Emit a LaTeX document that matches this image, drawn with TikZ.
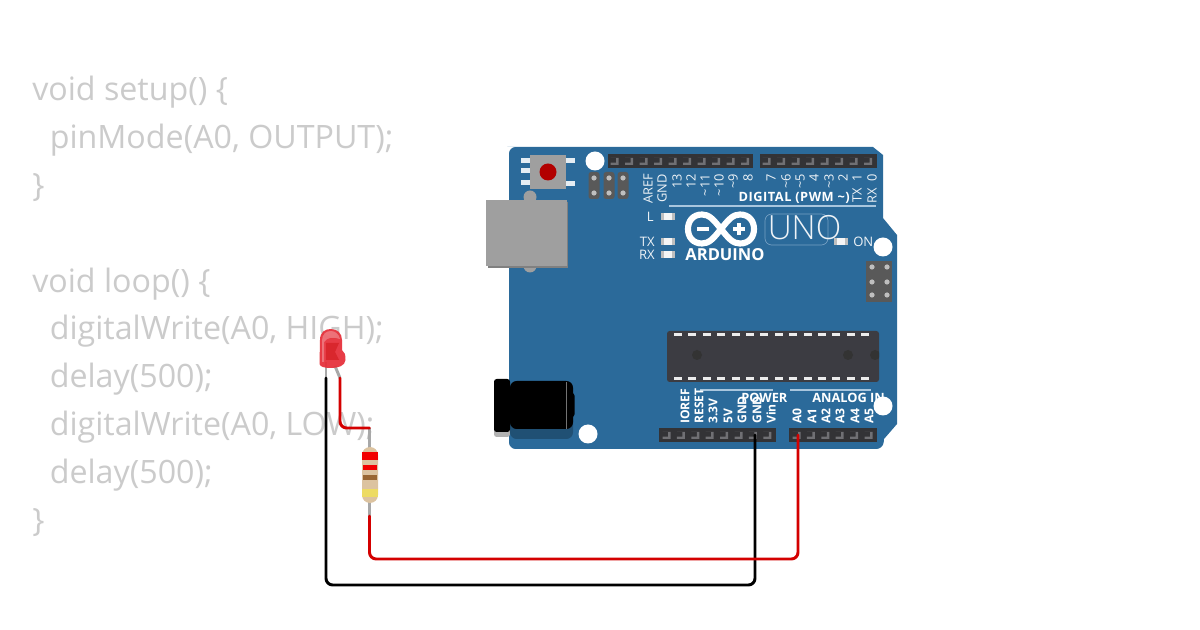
\documentclass[tikz,border=0pt]{standalone}
\usepackage{fontspec}
\setmainfont{Open Sans}
\newfontfamily\unofont{Open Sans Light}
\definecolor{boardblue}{HTML}{2B6A9A}
\definecolor{codegray}{HTML}{CBCBCB}
\definecolor{wirered}{HTML}{D40000}
\definecolor{socket}{HTML}{333336}
\definecolor{socketlight}{HTML}{707074}
\definecolor{chipgray}{HTML}{3C3C42}
\definecolor{silk}{HTML}{A9C6DE}
\definecolor{leadgray}{HTML}{A8A8A8}
\definecolor{ledred}{HTML}{E62E38}
\definecolor{tan}{HTML}{DCC3A0}
\tikzset{
  codeline/.style={anchor=base west,inner sep=0pt,text=codegray,font=\fontsize{24.15}{24.15}\selectfont},
  pinlabel/.style={rotate=90,inner sep=0pt,text=white!92!boardblue,font=\fontsize{9.6}{9.6}\selectfont},
  pinbold/.style={pinlabel,text=white,font=\fontsize{9.1}{9.1}\selectfont\bfseries},
  boardtitle/.style={inner sep=0pt,text=white,font=\fontsize{9.6}{9.6}\selectfont\bfseries},
  boardtext/.style={inner sep=0pt,text=white!92!boardblue,font=\fontsize{9.8}{9.8}\selectfont},
  wire/.style={line width=2.2pt,rounded corners=5pt,line cap=round},
  lead/.style={line width=2.2pt,draw=leadgray}
}
\newcommand{\socketmark}[2]{%
  \fill[socketlight] (#1-4.5,#2-3.5) -- (#1+3.5,#2-3.5) -- (#1+3.5,#2+3.5) -- (#1-4.5,#2+3.5) -- (#1-4.5,#2+1.2) -- (#1+1,#2+1.2) -- (#1+1,#2-3.5) -- cycle;}
\begin{document}
\begin{tikzpicture}[x=0.75pt,y=-0.75pt]
\useasboundingbox (0,0) rectangle (1200,630);
\fill[white] (0,0) rectangle (1200,630);
% code
\node[codeline] (c1) at (32,101) {void setup() \{};
\node[codeline] (c2) at (49.5,149) {pinMode(A0, OUTPUT);};
\node[codeline] (c3) at (32,197) {\}};
\node[codeline] (c4) at (32,293) {void loop() \{};
\node[codeline] (c5) at (49.5,340) {digitalWrite(A0, HIGH);};
\node[codeline] (c6) at (49.5,388) {delay(500);};
\node[codeline] (c7) at (49.5,436) {digitalWrite(A0, LOW);};
\node[codeline] (c8) at (49.5,484) {delay(500);};
\node[codeline] (c9) at (32,532) {\}};
% board
\fill[boardblue] (514,147) -- (873,147) -- (883,155) -- (883,218) -- (897,235) -- (897,424) -- (884,439) [rounded corners=5pt] -- (883,449) -- (509,449) -- (509,147) -- cycle;
% reset button
\foreach \y in {160.5,170.5,182.5} \fill[white!88!boardblue] (521,\y-2.5) rectangle (531,\y+2.5);
\foreach \y in {160.5,183.5} \fill[white!88!boardblue] (565,\y-2.5) rectangle (575,\y+2.5);
\fill[gray!75] (530,155) rectangle (566,189);
\fill[red!70!black] (548,172) circle (8.5);
% ICSP 1
\foreach \x in {594,609,623} {
  \fill[black!65,rounded corners=2pt] (\x-5.5,172) rectangle (\x+5.5,199);
  \foreach \y in {178,193} \fill[black!25] (\x,\y) circle (2.6);
}
% ICSP 2
\fill[black!65] (866,261) rectangle (892,302);
\foreach \x in {872,887} \foreach \y in {267,282,295} \fill[black!25] (\x,\y) circle (2.6);
% USB
\fill[gray!75] (530,197) circle (6.5);
\fill[gray!75] (530,266) circle (6.5);
\fill[gray] (488,202) rectangle (568,268);
\fill[gray!75] (486,200) rectangle (567,266);
% jack
\fill[black!30,rounded corners=2pt] (494,392) rectangle (510,437);
\fill[boardblue!75!black,rounded corners=5pt] (510,392) rectangle (573,439);
\fill[black,rounded corners=5pt] (510,381) rectangle (573,429);
\fill[black,rounded corners=2pt] (494,379) rectangle (510,432);
\fill[black,rounded corners=2pt] (570,393) rectangle (574.5,417);
\draw[black!55,line width=.3pt] (566.5,382) -- (566.5,429);
% headers
\fill[socket] (608,154) rectangle (753,168);
\fill[socket] (760,154) rectangle (877,168);
\fill[socket] (659,428) rectangle (776,442);
\fill[socket] (789,428) rectangle (877,442);
\foreach \i in {0,...,9} {\pgfmathsetmacro{\px}{615+14.5*\i}\socketmark{\px}{161.5}}
\foreach \i in {0,...,7} {\pgfmathsetmacro{\px}{767+14.5*\i}\socketmark{\px}{161.5}}
\foreach \i in {0,...,7} {\pgfmathsetmacro{\px}{667+14.4*\i}\socketmark{\px}{435.5}}
\foreach \i in {0,...,5} {\pgfmathsetmacro{\px}{797+14.4*\i}\socketmark{\px}{435.5}}
% chip
\fill[chipgray,rounded corners=2pt] (667,331) rectangle (879,382);
\foreach \i in {0,...,13} {
  \pgfmathsetmacro{\px}{678+14.4*\i}
  \fill[white!85!gray] (\px-4,333) rectangle (\px+4,336);
  \fill[white!85!gray] (\px-4,377) rectangle (\px+4,380);
}
\fill[black!80] (697,355) circle (5);
\fill[black!80] (848,355) circle (5);
\begin{scope}
\clip (667,331) rectangle (879,382);
\fill[black!80] (875,355) circle (5);
\end{scope}
% silk lines
\draw[silk,line width=.8pt] (669,206) -- (876,206);
\draw[silk,line width=.8pt] (700,390) -- (773,390);
\draw[silk,line width=.8pt] (790,390) -- (871,390);
% top pin labels
\node[pinlabel,anchor=east] (lAREF) at (648,174) {AREF};
\node[pinlabel,anchor=east] (lGND) at (662,174) {GND};
\node[pinlabel,anchor=east] (l13) at (677,174) {13};
\node[pinlabel,anchor=east] (l12) at (691,174) {12};
\node[pinlabel,anchor=east] (l11) at (705,174) {\textasciitilde 11};
\node[pinlabel,anchor=east] (l10) at (719,174) {\textasciitilde 10};
\node[pinlabel,anchor=east] (l9) at (733,174) {\textasciitilde 9};
\node[pinlabel,anchor=east] (l8) at (748,174) {8};
\node[pinlabel,anchor=east] (l7) at (771,174) {7};
\node[pinlabel,anchor=east] (l6) at (786,174) {\textasciitilde 6};
\node[pinlabel,anchor=east] (l5) at (800,174) {\textasciitilde 5};
\node[pinlabel,anchor=east] (l4) at (814,174) {4};
\node[pinlabel,anchor=east] (l3) at (829,174) {\textasciitilde 3};
\node[pinlabel,anchor=east] (l2) at (843,174) {2};
\node[pinlabel,anchor=east] (l1) at (857,174) {1};
\node[pinlabel,anchor=east] (l0) at (872,174) {0};
\node[pinlabel,anchor=east] (lTX) at (857,188) {TX};
\node[pinlabel,anchor=east] (lRX) at (872,188) {RX};
\node[boardtitle,anchor=east] (ldigital) at (850,197.5) {\addfontfeature{LetterSpace=4}DIGITAL (PWM \textasciitilde)};
% leds
\node[boardtext,anchor=east] (lL) at (654,216.5) {L};
\node[boardtext,anchor=east] (lTXl) at (655,242) {TX};
\node[boardtext,anchor=east] (lRXl) at (655,255) {RX};
\node[boardtext,anchor=west] (lON) at (853,242) {ON};
\foreach \x/\y in {668/217,668/242,668/255,841/242} {
  \fill[black!25] (\x-7,\y-3.5) rectangle (\x+7,\y+3.5);
  \fill[white!92!gray] (\x-4,\y-3.5) rectangle (\x+4,\y+3.5);
}
% logo
\draw[white,line width=4.6pt] (721,229) .. controls (729,219) and (733,214.5) .. (740,214.5) .. controls (749,214.5) and (754,221) .. (754,229) .. controls (754,237) and (749,243.5) .. (740,243.5) .. controls (733,243.5) and (729,239) .. (721,229) .. controls (713,219) and (709,214.5) .. (702,214.5) .. controls (693,214.5) and (688,221) .. (688,229) .. controls (688,237) and (693,243.5) .. (702,243.5) .. controls (709,243.5) and (713,239) .. (721,229) -- cycle;
\fill[white] (697,227.5) rectangle (709,231);
\fill[white] (733,227.5) rectangle (745,231);
\fill[white] (737.2,223) rectangle (740.8,235);
\node[inner sep=0pt,text=white,font=\fontsize{12.4}{12.4}\selectfont\bfseries] (larduino) at (725,255) {ARDUINO};
\draw[silk!60!boardblue,line width=.5pt,rounded corners=5pt] (765,214) rectangle (828,245);
\node[inner sep=0pt,text=white!92!boardblue,font=\unofont\fontsize{25}{25}\selectfont] (luno) at (804.5,228) {UNO};
% bottom labels
\node[pinbold,anchor=west] (bIOREF) at (685,424) {IOREF};
\node[pinbold,anchor=west] (bRESET) at (699,424) {RESET};
\node[pinbold,anchor=west] (b33) at (713,424) {3.3V};
\node[pinbold,anchor=west] (b5V) at (728,424) {5V};
\node[pinbold,anchor=west] (bGNDa) at (742,424) {GND};
\node[pinbold,anchor=west] (bGNDb) at (757,424) {GND};
\node[pinbold,anchor=west] (bVin) at (771,424) {Vin};
\node[pinbold,anchor=west] (bA0) at (797,424) {A0};
\node[pinbold,anchor=west] (bA1) at (812,424) {A1};
\node[pinbold,anchor=west] (bA2) at (826,424) {A2};
\node[pinbold,anchor=west] (bA3) at (840,424) {A3};
\node[pinbold,anchor=west] (bA4) at (855,424) {A4};
\node[pinbold,anchor=west] (bA5) at (869,424) {A5};
\node[boardtitle,anchor=west] (lpower) at (741,398) {POWER};
\node[boardtitle,anchor=west] (lanalog) at (812,398) {ANALOG IN};
% holes
\foreach \x/\y in {595/161,883/247,883/406,588/434} \fill[white] (\x,\y) circle (9.5);
% wire anchors
\coordinate (gndpin) at (755,435);
\coordinate (a0pin) at (798,435);
\coordinate (ledcath) at (326,378);
\coordinate (ledanode) at (340,378);
\coordinate (restop) at (369.5,428);
\coordinate (resbot) at (369.5,516);
% resistor
\draw[lead] (restop) -- (resbot);
\fill[tan,rounded corners=6pt] (362,447) rectangle (378,503);
\fill[tan] (364,462) rectangle (376,490);
\fill[red!95!black] (362,452) rectangle (378,460);
\fill[red!95!black] (363,465) rectangle (377,470.5);
\fill[brown!80!black] (363,475) rectangle (377,480.5);
\fill[yellow!45!tan] (362,489) rectangle (378,497);
% LED
\draw[lead] (326,362) -- (ledcath);
\draw[lead] (335,366) -- (ledanode);
\fill[ledred,opacity=.93] (319.5,364) -- (320,340) .. controls (320,332) and (325,329) .. (331,329) .. controls (337,329) and (342,333) .. (342,340) -- (342,350) .. controls (345,352) and (345.5,355) .. (345.5,360) .. controls (345,366) and (338,368) .. (331,368) .. controls (325,368) and (320,367) .. (319.5,364) -- cycle;
\fill[red!75!black,opacity=.35] (326,343) -- (339,343) -- (335,352) -- (339,360) -- (326,360) -- cycle;
\fill[white,opacity=.28] (322,341) .. controls (322,334) and (326,331) .. (331,331) .. controls (335,331) and (339,334) .. (340,339) .. controls (334,337) and (327,337) .. (324,342) -- (324,362) -- (322,362) -- cycle;
% wires
\draw[wire,black] (gndpin) -- (755,585) -- (326,585) -- (ledcath);
\draw[wire,wirered] (a0pin) -- (798,559) -- (369.5,559) -- (resbot);
\draw[wire,wirered] (ledanode) -- (340,428) -- (restop);
\end{tikzpicture}
\end{document}
